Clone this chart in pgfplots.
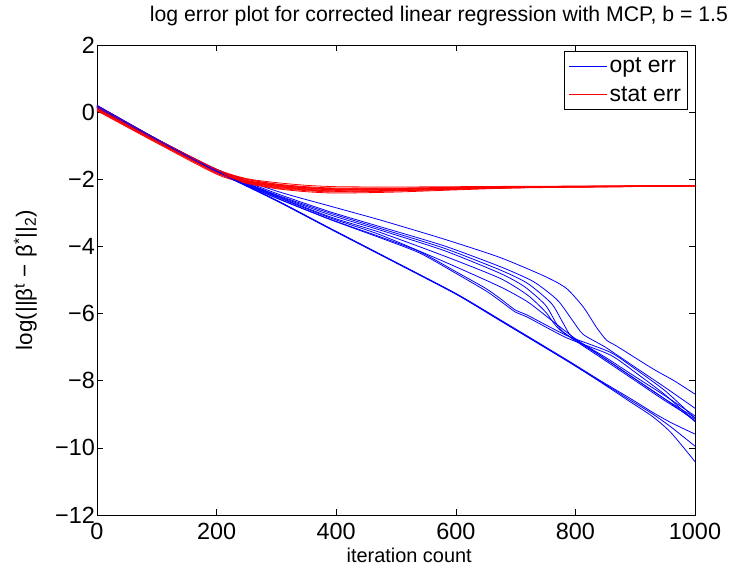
\documentclass[border=0pt]{standalone}
\usepackage{fontspec}
\setmainfont{Liberation Sans}
\usepackage{pgfplots}
\pgfplotsset{compat=1.18}
\begin{document}
\begin{tikzpicture}
\useasboundingbox (-97bp,-53bp) rectangle (633bp,515bp);
\begin{axis}[
 at={(0,0)}, anchor=south west,
 scale only axis, width=598bp, height=470bp,
 xmin=0, xmax=1000, ymin=-12, ymax=2,
 xtick={0,200,400,600,800,1000},
 ytick={-12,-10,-8,-6,-4,-2,0,2},
 xticklabels={0,200,400,600,800,1000},
 yticklabels={−12,−10,−8,−6,−4,−2,0,2},
 tick align=inside, major tick length=6bp,
 tick style={black, line width=0.6bp},
 axis line style={line width=0.8bp},
 ticklabel style={font=\fontsize{23.5}{23.5}\selectfont},
 xticklabel style={inner sep=2bp, yshift=-6bp},
 yticklabel style={inner sep=2bp},
 xlabel={iteration count},
 xlabel style={font=\fontsize{20}{20}\selectfont, at={(axis description cs:0.522,-0.1)}, anchor=base},
 ylabel={log(||β\textsuperscript{t} − β\textsuperscript{*}||\textsubscript{2})},
 ylabel style={font=\fontsize{22.5}{22.5}\selectfont, at={(axis description cs:-0.12,0.5)}, anchor=center},
 title={log error plot for corrected linear regression with MCP, b = 1.5},
 title style={font=\fontsize{21.3}{21.3}\selectfont, at={(axis description cs:0.088,1)}, anchor=base west, yshift=18bp, inner sep=0pt},
 legend style={at={(0.988,0.987)}, anchor=north east, line width=0.6bp,
   font=\fontsize{23}{23}\selectfont, inner sep=4bp, row sep=7bp, cells={anchor=west},
   nodes={inner sep=2.5bp}},
 every axis plot/.append style={line width=0.8bp, smooth, tension=0.4},
]
\addlegendimage{legend image code/.code={\draw[color=blue, line width=0.9bp] (0bp,0bp) -- (38bp,0bp);}}
\addlegendentry{opt err}
\addlegendimage{legend image code/.code={\draw[color=red, line width=0.9bp] (0bp,0bp) -- (38bp,0bp);}}
\addlegendentry{stat err}
% trial 1
\addplot[blue, forget plot] coordinates {(0,0.2) (100,-0.8) (200,-1.7) (300,-2.35) (390,-2.8) (473,-3.21) (580,-3.78) (674,-4.33) (750,-4.9) (785,-5.25) (813,-5.8) (836,-6.43) (852,-6.79) (870,-6.98) (930,-7.65) (965,-8.0) (1000,-8.4)};
\addplot[red, forget plot] coordinates {(0,0.2) (100,-0.8) (200,-1.7) (250,-1.98) (300,-2.1) (350,-2.18) (400,-2.22) (500,-2.23) (700,-2.21) (1000,-2.19)};
% trial 2
\addplot[blue, forget plot] coordinates {(0,0.18) (100,-0.82) (200,-1.72) (300,-2.42) (390,-2.97) (473,-3.41) (580,-3.98) (674,-4.6) (730,-5.05) (770,-5.6) (795,-6.2) (813,-6.62) (850,-7.0) (900,-7.6) (950,-8.2) (1000,-8.82)};
\addplot[red, forget plot] coordinates {(0,0.15) (100,-0.83) (200,-1.73) (250,-2.0) (300,-2.14) (350,-2.22) (400,-2.26) (500,-2.26) (700,-2.22) (1000,-2.19)};
% trial 3
\addplot[blue, forget plot] coordinates {(0,0.15) (100,-0.83) (200,-1.74) (300,-2.46) (390,-3.01) (473,-3.46) (580,-4.05) (674,-4.7) (720,-5.1) (760,-5.7) (780,-6.3) (795,-6.7) (850,-7.3) (900,-7.88) (950,-8.45) (1000,-9.05)};
\addplot[red, forget plot] coordinates {(0,0.1) (100,-0.86) (200,-1.76) (250,-2.03) (300,-2.17) (350,-2.25) (400,-2.29) (500,-2.28) (700,-2.23) (1000,-2.19)};
% trial 4
\addplot[blue, forget plot] coordinates {(0,0.17) (100,-0.84) (200,-1.75) (300,-2.48) (390,-3.06) (473,-3.51) (580,-4.12) (674,-4.8) (715,-5.2) (750,-5.75) (770,-6.35) (785,-6.62) (850,-7.35) (900,-7.95) (950,-8.55) (1000,-9.1)};
\addplot[red, forget plot] coordinates {(0,0.06) (100,-0.9) (200,-1.8) (250,-2.07) (300,-2.22) (350,-2.3) (400,-2.33) (500,-2.31) (700,-2.24) (1000,-2.19)};
% trial 5
\addplot[blue, forget plot] coordinates {(0,0.12) (100,-0.85) (200,-1.76) (300,-2.5) (390,-3.12) (473,-3.58) (580,-4.28) (674,-4.95) (720,-5.45) (750,-5.95) (775,-6.5) (850,-7.4) (900,-8.0) (950,-8.6) (1000,-9.15)};
\addplot[red, forget plot] coordinates {(0,0.12) (100,-0.85) (200,-1.78) (250,-2.06) (300,-2.2) (350,-2.28) (400,-2.31) (500,-2.3) (700,-2.23) (1000,-2.19)};
% trial 6
\addplot[blue, forget plot] coordinates {(0,0.14) (100,-0.86) (200,-1.78) (300,-2.52) (390,-3.15) (473,-3.65) (580,-4.45) (674,-5.2) (720,-5.65) (760,-6.2) (800,-6.75) (850,-7.35) (900,-7.95) (950,-8.55) (1000,-9.2)};
\addplot[red, forget plot] coordinates {(0,0.18) (100,-0.82) (200,-1.75) (250,-2.05) (300,-2.2) (350,-2.3) (400,-2.35) (500,-2.33) (700,-2.25) (1000,-2.2)};
% trial 7
\addplot[blue, forget plot] coordinates {(0,0.16) (100,-0.84) (200,-1.78) (300,-2.55) (390,-3.19) (473,-3.71) (540,-4.16) (600,-4.75) (650,-5.25) (674,-5.55) (700,-5.9) (720,-6.05) (785,-6.65) (858,-7.15) (900,-7.65) (950,-8.3) (1000,-9.12)};
\addplot[red, forget plot] coordinates {(0,0.08) (100,-0.88) (200,-1.82) (250,-2.1) (300,-2.26) (350,-2.34) (400,-2.38) (500,-2.35) (700,-2.25) (1000,-2.2)};
% trial 8
\addplot[blue, forget plot] coordinates {(0,0.13) (100,-0.85) (200,-1.79) (300,-2.56) (390,-3.2) (473,-3.74) (540,-4.2) (600,-4.8) (650,-5.32) (674,-5.62) (700,-5.96) (720,-6.11) (785,-6.72) (858,-7.23) (900,-7.75) (950,-8.42) (1000,-9.22)};
\addplot[red, forget plot] coordinates {(0,0.04) (100,-0.92) (200,-1.85) (250,-2.12) (300,-2.28) (350,-2.37) (400,-2.41) (500,-2.38) (700,-2.26) (1000,-2.2)};
% trial 9
\addplot[blue, forget plot] coordinates {(0,0.2) (100,-0.8) (200,-1.75) (300,-2.62) (390,-3.46) (490,-4.38) (600,-5.4) (674,-6.18) (785,-7.37) (841,-7.99) (891,-8.52) (930,-8.95) (960,-9.25) (1000,-9.59)};
\addplot[red, forget plot] coordinates {(0,0.14) (100,-0.84) (200,-1.77) (250,-2.04) (300,-2.18) (350,-2.26) (400,-2.3) (500,-2.29) (700,-2.23) (1000,-2.19)};
% trial 10
\addplot[blue, forget plot] coordinates {(0,0.18) (100,-0.81) (200,-1.76) (300,-2.63) (390,-3.47) (490,-4.39) (600,-5.41) (674,-6.2) (785,-7.39) (841,-8.01) (891,-8.57) (930,-9.0) (960,-9.38) (1000,-9.95)};
\addplot[red, forget plot] coordinates {(0,0.17) (100,-0.81) (200,-1.72) (250,-2.0) (300,-2.15) (350,-2.24) (400,-2.28) (500,-2.28) (700,-2.23) (1000,-2.19)};
% trial 11
\addplot[blue, forget plot] coordinates {(0,0.16) (100,-0.82) (200,-1.77) (300,-2.64) (390,-3.48) (490,-4.4) (600,-5.42) (674,-6.21) (785,-7.4) (841,-8.03) (891,-8.62) (930,-9.08) (960,-9.55) (1000,-10.41)};
\addplot[red, forget plot] coordinates {(0,0.1) (100,-0.87) (200,-1.8) (250,-2.08) (300,-2.24) (350,-2.32) (400,-2.36) (500,-2.34) (700,-2.25) (1000,-2.2)};
\end{axis}
\end{tikzpicture}
\end{document}
